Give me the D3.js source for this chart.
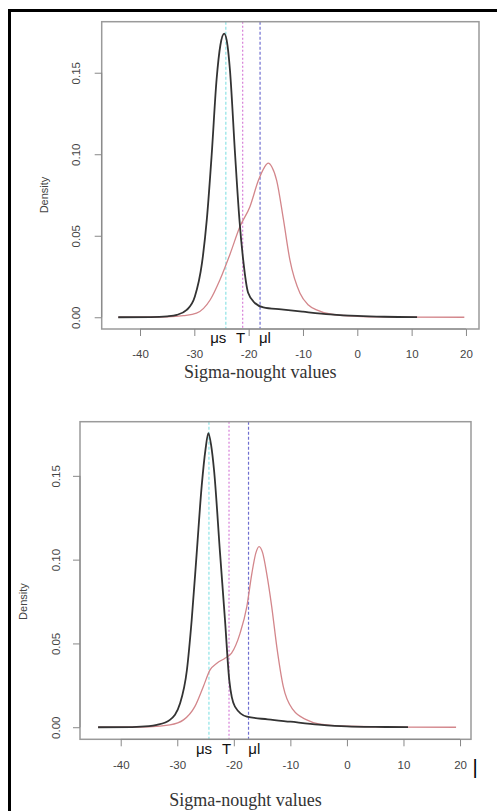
<!DOCTYPE html>
<html>
<head>
<meta charset="utf-8">
<script src="https://cdn.jsdelivr.net/npm/d3@7"></script>
<style>
  body { margin: 0; background: #fff; }
  svg { display: block; }
  .tick text { fill: #444; }
</style>
</head>
<body>
<div id="chart"></div>
<script>
// values (sigma-nought dB, density)
const topSmoothX = [-44, -38, -35, -33.2, -31.4, -29.9, -28.6, -27.7, -26.8, -25.9, -25.2, -24.5, -23.9, -23.45, -22.5, -21.7, -21.0, -20.1, -18.8, -17.3, -14, -10, -5, 0, 5, 11]
const topSmoothY = [0, 0.0001, 0.0006, 0.0015, 0.0045, 0.0127, 0.033, 0.060, 0.100, 0.146, 0.167, 0.174, 0.167, 0.152, 0.100, 0.060, 0.035, 0.015, 0.0086, 0.0061, 0.0048, 0.0034, 0.0018, 0.0008, 0.0003, 0.0001]
const topRoughX = [-44, -35, -32, -29.6, -27.1, -25.3, -23.4, -21.6, -19.75, -18.2, -17.1, -16.4, -15.7, -14.85, -13.6, -12.4, -10.55, -9, -7.5, -5, 0, 5, 10, 19.7]
const topRoughY = [0, 0.0003, 0.001, 0.0025, 0.0106, 0.0229, 0.039, 0.0556, 0.068, 0.084, 0.092, 0.0945, 0.092, 0.084, 0.060, 0.035, 0.0147, 0.0075, 0.0045, 0.002, 0.0006, 0.0002, 0.0001, 0]
const topMarks = [-24.2, -21.1, -17.9]
const topMarkLabelAt = [-25.6, -21.5, -17.0]

const botSmoothX = [-44, -38, -35, -33.6, -31.3, -29.5, -28.3, -27.45, -26.56, -25.68, -25.0, -24.5, -24.0, -23.5, -22.44, -21.56, -20.8, -19.8, -17.7, -14, -10, -5, 0, 5, 10.8]
const botSmoothY = [0, 0.0001, 0.0006, 0.0014, 0.0044, 0.0143, 0.034, 0.064, 0.104, 0.144, 0.166, 0.1754, 0.168, 0.1535, 0.104, 0.064, 0.028, 0.0123, 0.0063, 0.0047, 0.0033, 0.0016, 0.0005, 0.0002, 0.0001]
const botRoughX = [-44, -35, -31.3, -28.9, -26.9, -25.4, -24.2, -23.0, -21.56, -20.4, -18.9, -17.7, -16.8, -16.1, -15.54, -14.9, -14.2, -13.3, -12.4, -11.25, -9.5, -7.1, -5, 0, 10, 19.3]
const botRoughY = [0, 0.0003, 0.0014, 0.0044, 0.0123, 0.0242, 0.0342, 0.0382, 0.0412, 0.0442, 0.056, 0.072, 0.092, 0.104, 0.1078, 0.104, 0.092, 0.072, 0.048, 0.0242, 0.0103, 0.0044, 0.002, 0.0006, 0.0001, 0]
const botMarks = [-24.4, -20.85, -17.4]
const botMarkLabelAt = [-25.27, -21.26, -16.38]

const markLabels = ['μs', 'T', 'μl']
const markColors = ['#8ee3e6', '#d77fd9', '#6f6fd0']
const xTicks = [-40, -30, -20, -10, 0, 10, 20]
const yTicks = [0, 0.05, 0.10, 0.15]
const xTitle = 'Sigma-nought values'
const yTitle = 'Density'

const width = 497
const height = 811

const svg = d3.select('#chart').append('svg')
    .attr('width', width)
    .attr('height', height)

// frame round the figure (top and left edges only are visible)
svg.append('line').attr('x1', 8).attr('x2', width).attr('y1', 10.5).attr('y2', 10.5)
    .attr('stroke', '#000').attr('stroke-width', 3)
svg.append('line').attr('x1', 9.5).attr('x2', 9.5).attr('y1', 9).attr('y2', height)
    .attr('stroke', '#000').attr('stroke-width', 3)

drawPanel({
    box: {left: 101.7, right: 479, top: 21.7, bottom: 329},
    xDomain: [-47.05, 22.4], yDomain: [-0.0072, 0.1813],
    smooth: [topSmoothX, topSmoothY], rough: [topRoughX, topRoughY],
    marks: topMarks, markAt: topMarkLabelAt, markY: 343,
    tickLabelY: 358, yLabelX: 77, yTitleX: 45, xTitleY: 378
})

drawPanel({
    box: {left: 80, right: 471, top: 421.7, bottom: 739.3},
    xDomain: [-47.2, 21.94], yDomain: [-0.0072, 0.1823],
    smooth: [botSmoothX, botSmoothY], rough: [botRoughX, botRoughY],
    marks: botMarks, markAt: botMarkLabelAt, markY: 754,
    tickLabelY: 769, yLabelX: 57, yTitleX: 24, xTitleY: 806
})

// stray bar next to the last tick label of the lower panel
svg.append('text')
    .attr('x', 475).attr('y', 774)
    .attr('text-anchor', 'middle')
    .attr('font-family', 'Liberation Sans, Arial, sans-serif')
    .attr('font-size', 20)
    .attr('fill', '#000')
    .text('|')

function drawPanel(cfg) {
    const b = cfg.box
    const x = d3.scaleLinear().domain(cfg.xDomain).range([b.left, b.right])
    const y = d3.scaleLinear().domain(cfg.yDomain).range([b.bottom, b.top])
    const g = svg.append('g')

    // marker lines
    const dashes = ['3,2', '2,2', '3,2']
    cfg.marks.forEach((m, i) => {
        g.append('line')
            .attr('x1', x(m)).attr('x2', x(m))
            .attr('y1', b.top).attr('y2', b.bottom)
            .attr('stroke', markColors[i])
            .attr('stroke-width', 1.2)
            .attr('stroke-dasharray', dashes[i])
    })

    const line = d3.line()
        .x(d => x(d[0]))
        .y(d => y(d[1]))
        .curve(d3.curveMonotoneX)

    g.append('path')
        .datum(d3.zip(cfg.rough[0], cfg.rough[1]))
        .attr('d', line)
        .attr('fill', 'none')
        .attr('stroke', '#d3868b')
        .attr('stroke-width', 1.3)

    g.append('path')
        .datum(d3.zip(cfg.smooth[0], cfg.smooth[1]))
        .attr('d', line)
        .attr('fill', 'none')
        .attr('stroke', '#333')
        .attr('stroke-width', 1.8)

    // box
    g.append('rect')
        .attr('x', b.left).attr('y', b.top)
        .attr('width', b.right - b.left).attr('height', b.bottom - b.top)
        .attr('fill', 'none')
        .attr('stroke', '#9a9a9a')
        .attr('stroke-width', 1.5)

    // x axis
    const xAxis = g.append('g')
        .attr('transform', 'translate(0,' + b.bottom + ')')
        .call(d3.axisBottom(x).tickValues(xTicks).tickSize(7).tickFormat(d3.format('d')))
    xAxis.select('.domain')
        .attr('d', 'M' + x(xTicks[0]) + ',0H' + x(xTicks[xTicks.length - 1]))
        .attr('stroke', '#888')
    xAxis.selectAll('.tick line').attr('stroke', '#888')
    xAxis.selectAll('.tick text')
        .attr('y', cfg.tickLabelY - b.bottom)
        .attr('dy', 0)
        .attr('font-family', 'Liberation Sans, Arial, sans-serif')
        .attr('font-size', 11.5)
        .text(d => d < 0 ? '-' + Math.abs(d) : d)

    // y axis
    const yAxis = g.append('g')
        .attr('transform', 'translate(' + b.left + ',0)')
        .call(d3.axisLeft(y).tickValues(yTicks).tickSize(7).tickFormat(d3.format('.2f')))
    yAxis.select('.domain')
        .attr('d', 'M0,' + y(yTicks[0]) + 'V' + y(yTicks[yTicks.length - 1]))
        .attr('stroke', '#888')
    yAxis.selectAll('.tick line').attr('stroke', '#888')
    yAxis.selectAll('.tick text')
        .attr('x', 0).attr('dy', 0).attr('y', 0)
        .attr('text-anchor', 'middle')
        .attr('dominant-baseline', 'middle')
        .attr('transform', 'translate(' + (cfg.yLabelX - b.left) + ',0) rotate(-90)')
        .attr('font-family', 'Liberation Sans, Arial, sans-serif')
        .attr('font-size', 11.5)

    // marker labels
    cfg.marks.forEach((m, i) => {
        g.append('text')
            .attr('x', x(cfg.markAt[i]))
            .attr('y', cfg.markY)
            .attr('text-anchor', 'middle')
            .attr('font-family', 'Liberation Sans, Arial, sans-serif')
            .attr('font-size', 15)
            .attr('fill', '#111')
            .text(markLabels[i])
    })

    // titles
    g.append('text')
        .attr('x', (b.left + b.right) / 2 - 30)
        .attr('y', cfg.xTitleY)
        .attr('text-anchor', 'middle')
        .attr('font-family', 'Liberation Serif, Times New Roman, serif')
        .attr('font-size', 18)
        .attr('fill', '#333')
        .text(xTitle)

    g.append('text')
        .attr('transform', 'translate(' + cfg.yTitleX + ',' + ((y(0) + y(0.15)) / 2) + ') rotate(-90)')
        .attr('text-anchor', 'middle')
        .attr('dominant-baseline', 'middle')
        .attr('font-family', 'Liberation Sans, Arial, sans-serif')
        .attr('font-size', 11)
        .attr('fill', '#444')
        .text(yTitle)
}
</script>
</body>
</html>
